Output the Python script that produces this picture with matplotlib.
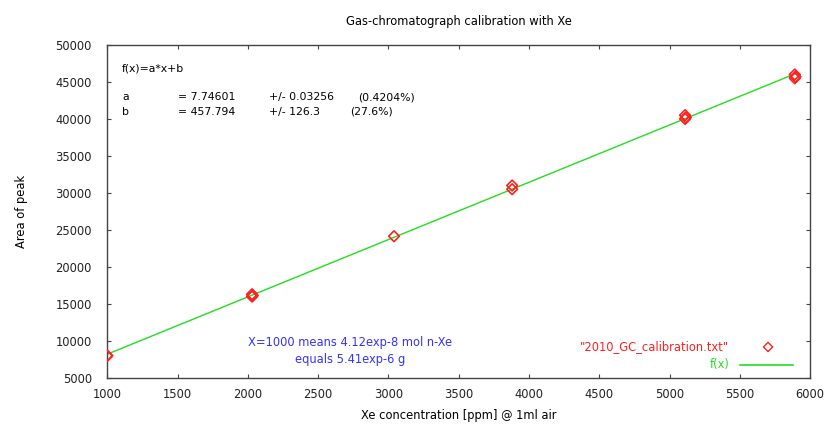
import numpy as np
import matplotlib.pyplot as plt

# calibration measurements: Xe concentration [ppm] vs area of peak
conc = [1000, 1000, 2030, 2030, 2035, 3040, 3880, 3880, 5110, 5110, 5115, 5890, 5890, 5895]
area = [7950, 8050, 16000, 16300, 16150, 24150, 30500, 31000, 40000, 40500, 40200, 45500, 46000, 45700]

# linear fit f(x) = a*x + b
a, a_err, a_pct = 7.74601, 0.03256, 0.4204
b, b_err, b_pct = 457.794, 126.3, 27.6

xticks = np.arange(1000, 6001, 500)
yticks = np.arange(5000, 50001, 5000)

plt.rcParams['font.family'] = ['DejaVu Sans']
fs = 8.3

fig = plt.figure(figsize=(8.31, 4.28), dpi=100)
ax = fig.add_axes([0.129, 0.117, 0.846, 0.778])

xf = np.linspace(1000, 5900, 200)
ax.plot(xf, a * xf + b, color='#22dd22', lw=1.0, zorder=2)
ax.scatter(conc, area, marker='D', s=30, facecolors='none', edgecolors='#ff2020',
           linewidths=1.2, zorder=3)

ax.set_xlim(1000, 6000)
ax.set_ylim(5000, 50000)
ax.set_xticks(xticks)
ax.set_yticks(yticks)
ax.tick_params(direction='in', top=True, right=True, length=3, color='#444444',
               labelsize=fs, labelcolor='#222222')
ax.tick_params(axis='y', pad=11)
ax.tick_params(axis='x', pad=7)
for sp in ax.spines.values():
    sp.set_color('#444444')
    sp.set_linewidth(1.0)

ax.set_title('Gas-chromatograph calibration with Xe', fontsize=fs, pad=14)
ax.set_xlabel('Xe concentration [ppm] @ 1ml air', fontsize=fs, labelpad=6)
ax.set_ylabel('Area of peak', fontsize=fs, labelpad=20)

# fit summary
ax.text(0.021, 0.93, 'f(x)=a*x+b', transform=ax.transAxes, fontsize=fs - 0.5, va='center')
rows = [('a', '= %.5f' % a, '+/- %.5f' % a_err, '(%.4f%%)' % a_pct, 0.357),
        ('b', '= %.3f' % b, '+/- %.1f' % b_err, '(%.1f%%)' % b_pct, 0.345)]
for i, (n, v, e, p, px) in enumerate(rows):
    yy = 0.843 - i * 0.043
    ax.text(0.021, yy, n, transform=ax.transAxes, fontsize=fs - 0.5, va='center')
    ax.text(0.101, yy, v, transform=ax.transAxes, fontsize=fs - 0.5, va='center')
    ax.text(0.230, yy, e, transform=ax.transAxes, fontsize=fs - 0.5, va='center')
    ax.text(px, yy, p, transform=ax.transAxes, fontsize=fs - 0.5, va='center')

ax.text(2730, 8650, 'X=1000 means 4.12exp-8 mol n-Xe\nequals 5.41exp-6 g', color='#3333ff',
        fontsize=fs, ha='center', va='center', linespacing=1.35)

# legend drawn gnuplot-style
ax.text(0.885, 0.093, '"2010_GC_calibration.txt"', transform=ax.transAxes, color='#ff2020',
        fontsize=fs, ha='right', va='center')
ax.scatter([0.94], [0.093], transform=ax.transAxes, marker='D', s=22, facecolors='none',
           edgecolors='#ff2020', linewidths=1.0)
ax.text(0.885, 0.039, 'f(x)', transform=ax.transAxes, color='#22dd22',
        fontsize=fs, ha='right', va='center')
ax.plot([0.90, 0.975], [0.039, 0.039], transform=ax.transAxes, color='#22dd22', lw=1.2)

fig.savefig('out.png', dpi=100)
